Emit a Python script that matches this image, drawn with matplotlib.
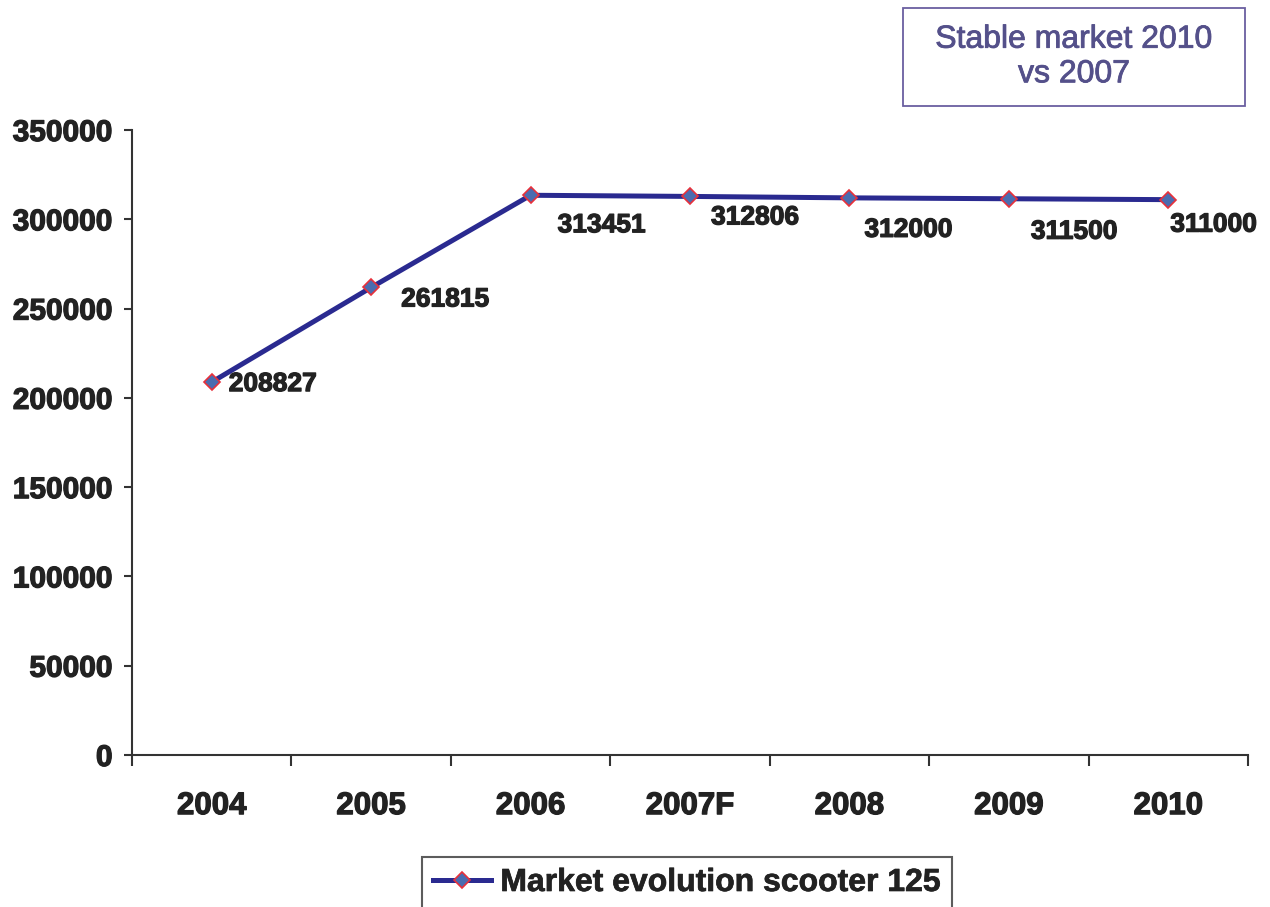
import matplotlib
matplotlib.use("Agg")
import matplotlib.pyplot as plt
import matplotlib.patheffects as pe
from matplotlib.patches import Rectangle
from matplotlib.ticker import FixedLocator, NullFormatter

years = ["2004", "2005", "2006", "2007F", "2008", "2009", "2010"]
units = [208827, 261815, 313451, 312806, 312000, 311500, 311000]
y_ticks = [0, 50000, 100000, 150000, 200000, 250000, 300000, 350000]
series_name = "Market evolution scooter 125"
note_text = "Stable market 2010\nvs 2007"

plt.rcParams["font.family"] = ["Liberation Sans", "DejaVu Sans"]

ink = "#222222"
heavy = [pe.withStroke(linewidth=0.9, foreground=ink)]

fig = plt.figure(figsize=(12.7, 9.07), dpi=100)
ax = fig.add_axes([132 / 1270, 1 - 755 / 907, (1248 - 132) / 1270, (755 - 130) / 907])

x = list(range(len(years)))
line, = ax.plot(x, units, color="#2a2a90", lw=3.6, marker="D", markersize=8,
                markerfacecolor="#4a6cb0", markeredgecolor="#e8303a",
                markeredgewidth=1.2, label=series_name, zorder=3)

# per-point label placement (pixels from the marker)
label_offsets = [(17, -2), (30, -12), (27, -30), (21, -21), (15, -32), (22, -33), (2, -25)]
for xi, v, off in zip(x, units, label_offsets):
    ax.annotate(str(v), (xi, v), xytext=off, textcoords="offset pixels",
                ha="left", va="center", fontsize=19, fontweight="bold",
                color=ink, path_effects=heavy)

ax.set_xlim(-0.5, len(years) - 0.5)
ax.set_ylim(0, 350000)
ax.set_yticks(y_ticks)
ax.set_yticklabels([str(t) for t in y_ticks])

ax.set_xticks(x)
ax.set_xticklabels(years)
ax.xaxis.set_minor_locator(FixedLocator([i - 0.5 for i in range(len(years) + 1)]))
ax.xaxis.set_minor_formatter(NullFormatter())
ax.tick_params(axis="x", which="major", length=0, pad=26, labelsize=22.5)
ax.tick_params(axis="x", which="minor", length=8, width=1.5, color="#333333",
               direction="out")
ax.tick_params(axis="y", length=6, width=1.5, color="#333333", pad=8,
               labelsize=21.5, direction="out")
for lbl in ax.get_xticklabels() + ax.get_yticklabels():
    lbl.set_fontweight("bold")
    lbl.set_color(ink)
    lbl.set_path_effects(heavy)

for side in ("top", "right"):
    ax.spines[side].set_visible(False)
for side in ("left", "bottom"):
    ax.spines[side].set_color("#333333")
    ax.spines[side].set_linewidth(1.5)

# note box in the upper right corner
fig.patches.append(Rectangle((903 / 1270, 1 - 106 / 907), (1245 - 903) / 1270,
                             (106 - 8) / 907, transform=fig.transFigure,
                             facecolor="white", edgecolor="#6a5fa0", lw=1.3))
fig.text((903 + 1245) / 2 / 1270, 1 - 57 / 907, note_text, ha="center",
         va="center", fontsize=23, color="#54508a", linespacing=1.2,
         path_effects=[pe.withStroke(linewidth=0.6, foreground="#54508a")])

leg = fig.legend(handles=[line], loc="lower center",
                 bbox_to_anchor=(687 / 1270, -0.02),
                 prop={"weight": "bold", "size": 23}, frameon=True,
                 fancybox=False, handlelength=1.8, handletextpad=0.3,
                 borderpad=0.35)
leg.get_frame().set_edgecolor("#333333")
leg.get_frame().set_linewidth(1.5)
for t in leg.get_texts():
    t.set_color(ink)
    t.set_path_effects([pe.withStroke(linewidth=0.5, foreground=ink)])

fig.savefig("out.png", dpi=100)
